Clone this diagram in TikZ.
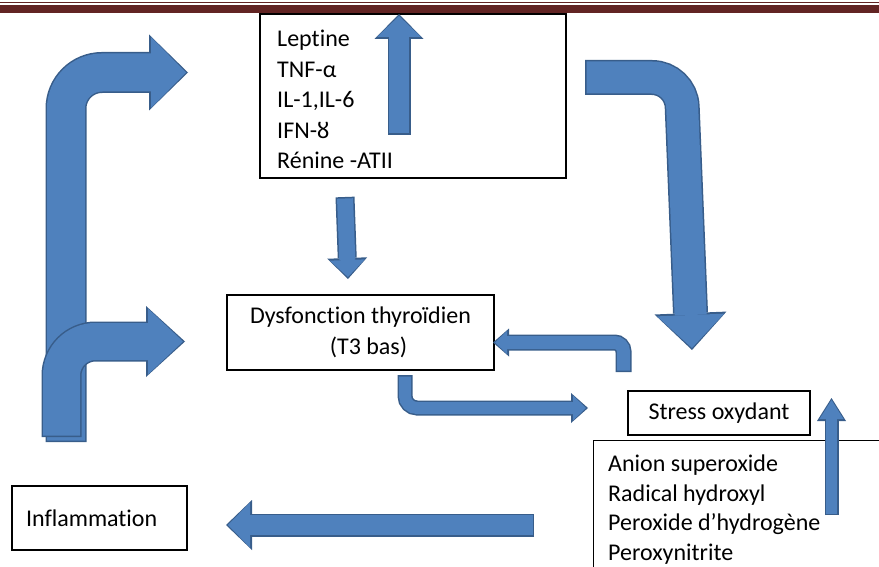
\documentclass[tikz,border=0pt]{standalone}
\usepackage{fontspec}
\setmainfont[Ligatures=NoCommon]{Carlito}
\usepackage{tikz}
\usetikzlibrary{positioning,arrows.meta}
\definecolor{headerred}{RGB}{98,36,35}
\definecolor{arrowfill}{RGB}{79,129,189}
\definecolor{arrowline}{RGB}{56,93,138}

\begin{document}
\begin{tikzpicture}[
    x=1pt, y=-1pt,
    every node/.style={font=\fontsize{24}{30.5}\selectfont, inner sep=0pt},
    boxNode/.style={rectangle, draw=black, line width=1.2pt, align=center},
    listNode/.style={anchor=north west, align=left},
    blockArrow/.style n args={4}{line width=#1, rounded corners=#4, -{Triangle[length=#2, width=#3, line width=0pt]}},
    blockEdge/.style={draw=arrowline},
    blockBody/.style={draw=arrowfill, shorten >=2pt, shorten <=1.5pt}
]
    \useasboundingbox (0,0) rectangle (879,567);
    \clip (0,0) rectangle (879,567);

    % page header rule
    \fill [headerred] (0,1.7) rectangle (879,3.3);
    \fill [headerred] (0,5) rectangle (879,13.5);

    \node [boxNode, minimum width=306pt, minimum height=164pt] (cytoBox) at (413,96) {};
    \node [listNode] (cytoList) at (277,30) {Leptine\\TNF-α\\IL-1,IL-6\\IFN-ȣ\\Rénine -ATII};
    \node [boxNode, minimum width=267pt, minimum height=75pt] (dysf) at (360.5,332.5) {Dysfonction thyroïdien\\\hspace*{16pt}(T3 bas)};
    \node [boxNode, minimum width=182pt, minimum height=44pt] (stress) at (719,413) {Stress oxydant};
    \node [boxNode, minimum width=330pt, minimum height=170pt, anchor=north west] (radBox) at (593,440) {};
    \node [listNode, font=\fontsize{24}{29.5}\selectfont] (radList) at (608,455) {Anion superoxide\\Radical hydroxyl\\Peroxide d’hydrogène\\Peroxynitrite};
    \node [boxNode, minimum width=175pt, minimum height=64pt, text width=147pt, align=left] (inflam) at (99.5,518) {Inflammation};

    % arrow ends
    \coordinate (upperFoot) at (66,442);
    \coordinate (upperTip) at (188,72.5);
    \coordinate (lowerFoot) at (61.5,437);
    \coordinate (lowerTip) at (185,341.5);
    \coordinate (rightFoot) at (585,77.5);
    \coordinate (rightBend) at (681,77.5);
    \coordinate (rightTip) at (692,350);
    \coordinate (cytoUpFoot) at (399,135);
    \coordinate (cytoUpTip) at (399,14);
    \coordinate (cytoDownFoot) at (345,197);
    \coordinate (cytoDownTip) at (348,279);
    \coordinate (backFoot) at (623.5,372);
    \coordinate (backTip) at (493,342.5);
    \coordinate (outFoot) at (405,375);
    \coordinate (outTip) at (588,408);
    \coordinate (stressUpFoot) at (831.5,515);
    \coordinate (stressUpTip) at (831.5,398);
    \coordinate (inflamFoot) at (534,525);
    \coordinate (inflamTip) at (226,525);

    \path [blockEdge, blockArrow={41pt}{39pt}{76pt}{36pt}] (upperFoot) |- (upperTip);
    \path [blockBody, blockArrow={38pt}{35pt}{71pt}{36pt}] (upperFoot) |- (upperTip);
    \path [blockEdge, blockArrow={40pt}{39pt}{71pt}{34pt}] (lowerFoot) |- (lowerTip);
    \path [blockBody, blockArrow={37pt}{35pt}{66pt}{34pt}] (lowerFoot) |- (lowerTip);
    \path [blockEdge, blockArrow={35pt}{37pt}{72pt}{29pt}] (rightFoot) -- (rightBend) -- (rightTip);
    \path [blockBody, blockArrow={32pt}{33pt}{67pt}{29pt}] (rightFoot) -- (rightBend) -- (rightTip);
    \path [blockEdge, blockArrow={23pt}{25pt}{49pt}{0pt}] (cytoUpFoot) -- (cytoUpTip);
    \path [blockBody, blockArrow={20pt}{21pt}{44pt}{0pt}] (cytoUpFoot) -- (cytoUpTip);
    \path [blockEdge, blockArrow={19pt}{21pt}{40pt}{0pt}] (cytoDownFoot) -- (cytoDownTip);
    \path [blockBody, blockArrow={16pt}{17pt}{35pt}{0pt}] (cytoDownFoot) -- (cytoDownTip);
    \path [blockEdge, blockArrow={16pt}{16pt}{28pt}{9pt}] (backFoot) |- (backTip);
    \path [blockBody, blockArrow={13pt}{12pt}{23pt}{9pt}] (backFoot) |- (backTip);
    \path [blockEdge, blockArrow={15pt}{17pt}{30pt}{12pt}] (outFoot) |- (outTip);
    \path [blockBody, blockArrow={12pt}{13pt}{25pt}{12pt}] (outFoot) |- (outTip);
    \path [blockEdge, blockArrow={14pt}{23pt}{29pt}{0pt}] (stressUpFoot) -- (stressUpTip);
    \path [blockBody, blockArrow={11pt}{19pt}{24pt}{0pt}] (stressUpFoot) -- (stressUpTip);
    \path [blockEdge, blockArrow={23pt}{26pt}{50pt}{0pt}] (inflamFoot) -- (inflamTip);
    \path [blockBody, blockArrow={20pt}{22pt}{45pt}{0pt}] (inflamFoot) -- (inflamTip);
\end{tikzpicture}
\end{document}
